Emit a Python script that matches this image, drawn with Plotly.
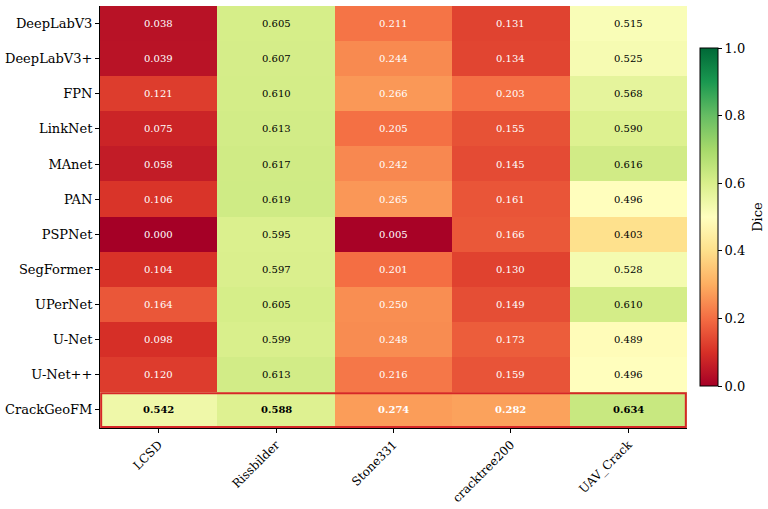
import plotly.graph_objects as go

models = ["DeepLabV3", "DeepLabV3+", "FPN", "LinkNet", "MAnet", "PAN", "PSPNet",
          "SegFormer", "UPerNet", "U-Net", "U-Net++", "CrackGeoFM"]
datasets = ["LCSD", "Rissbilder", "Stone331", "cracktree200", "UAV_Crack"]

lcsd = [0.038, 0.039, 0.121, 0.075, 0.058, 0.106, 0.000, 0.104, 0.164, 0.098, 0.120, 0.542]
rissbilder = [0.605, 0.607, 0.610, 0.613, 0.617, 0.619, 0.595, 0.597, 0.605, 0.599, 0.613, 0.588]
stone331 = [0.211, 0.244, 0.266, 0.205, 0.242, 0.265, 0.005, 0.201, 0.250, 0.248, 0.216, 0.274]
cracktree200 = [0.131, 0.134, 0.203, 0.155, 0.145, 0.161, 0.166, 0.130, 0.149, 0.173, 0.159, 0.282]
uav_crack = [0.515, 0.525, 0.568, 0.590, 0.616, 0.496, 0.403, 0.528, 0.610, 0.489, 0.496, 0.634]

columns = [lcsd, rissbilder, stone331, cracktree200, uav_crack]
z = [[col[i] for col in columns] for i in range(len(models))]

rdylgn = ['#a50026', '#d73027', '#f46d43', '#fdae61', '#fee08b', '#ffffbf',
          '#d9ef8b', '#a6d96a', '#66bd63', '#1a9850', '#006837']
colorscale = [[i / 10, c] for i, c in enumerate(rdylgn)]

FONT = "DejaVu Serif"
FS = 13

fig = go.Figure()
fig.add_trace(go.Heatmap(
    z=z, x=datasets, y=models, zmin=0, zmax=1, colorscale=colorscale,
    hoverongaps=False,
    colorbar=dict(
        x=1.022, xanchor="left", xpad=0, y=0.5, yanchor="middle", ypad=0,
        len=0.8, lenmode="fraction", thickness=18, thicknessmode="pixels",
        outlinewidth=1, outlinecolor="black",
        tickmode="linear", tick0=0, dtick=0.2, tickformat=".1f",
        ticks="outside", ticklen=4, tickcolor="black",
        tickfont=dict(family=FONT, size=FS, color="black"),
    ),
))

annotations = []
for i, m in enumerate(models):
    for j, d in enumerate(datasets):
        v = z[i][j]
        txt = f"{v:.3f}"
        if m == "CrackGeoFM":
            txt = f"<b>{txt}</b>"
        annotations.append(dict(
            x=d, y=m, text=txt, showarrow=False,
            font=dict(family=FONT, size=10, color="white" if v < 0.3 else "black"),
        ))

annotations.append(dict(
    text="Dice", xref="paper", yref="paper", x=1.119, y=0.5, xanchor="center", yanchor="middle",
    textangle=-90, showarrow=False, font=dict(family=FONT, size=FS, color="black"),
))

fig.add_shape(type="rect", xref="x", yref="y", x0=-0.49, x1=4.49, y0=10.53, y1=11.49,
              line=dict(color="#d62728", width=2), fillcolor="rgba(0,0,0,0)")

fig.update_layout(
    width=768, height=509,
    margin=dict(l=100, r=81, t=6, b=81),
    paper_bgcolor="white", plot_bgcolor="white",
    annotations=annotations,
    font=dict(family=FONT, size=FS, color="black"),
    xaxis=dict(showline=True, linecolor="black", linewidth=1, ticks="outside", ticklen=4,
               tickcolor="black", tickangle=-45, showgrid=False, zeroline=False,
               automargin=False,
               tickfont=dict(family=FONT, size=12, color="black")),
    yaxis=dict(showline=True, linecolor="black", linewidth=1, ticks="outside", ticklen=4,
               tickcolor="black", autorange="reversed", showgrid=False, zeroline=False,
               automargin=False,
               tickfont=dict(family=FONT, size=FS, color="black")),
)

fig.write_html("out.html")
